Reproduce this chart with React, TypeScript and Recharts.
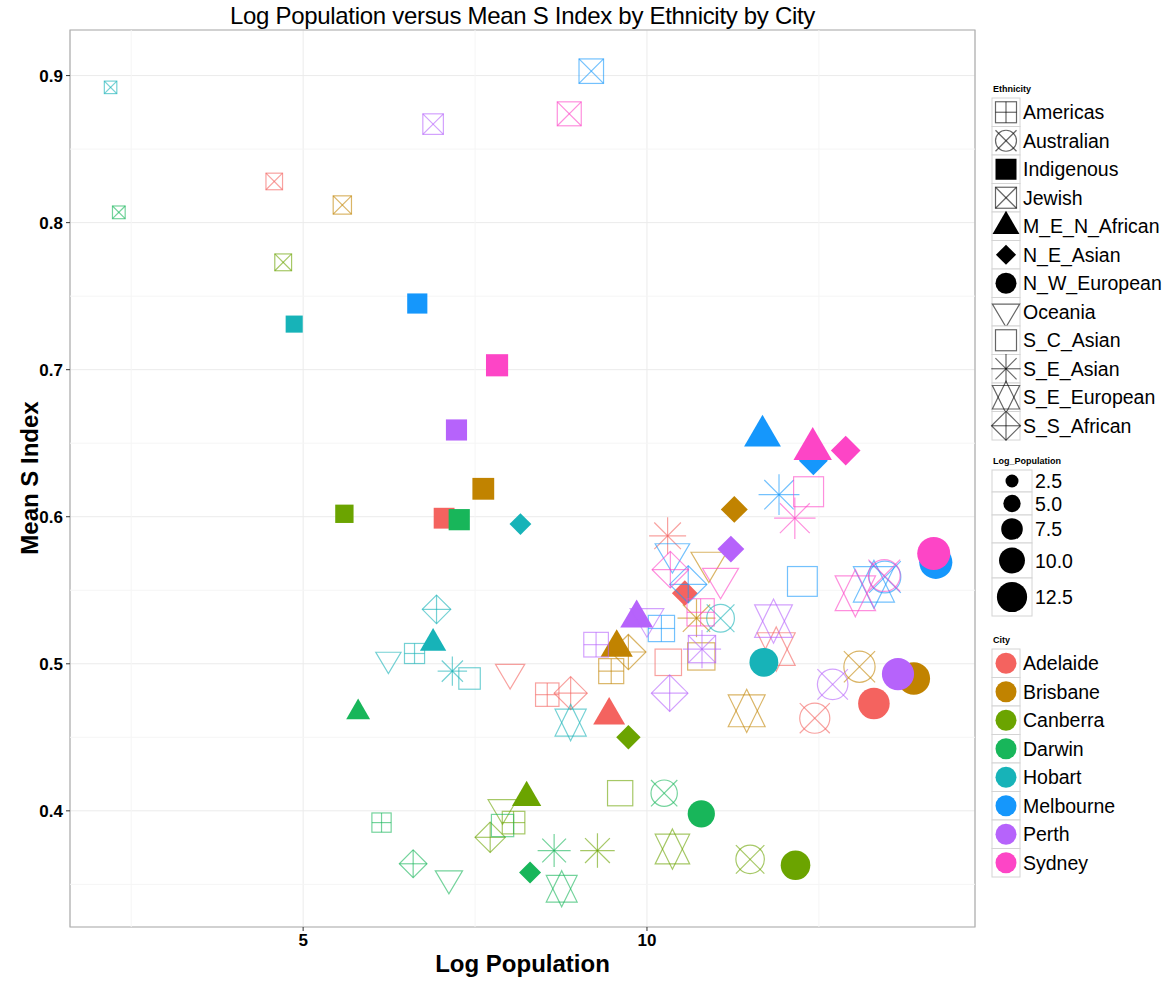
import React from 'react';
import {
  ScatterChart, Scatter, XAxis, YAxis, CartesianGrid, ReferenceLine, ReferenceArea
} from 'recharts';

type Pt = { eth: string; x: number; y: number };

const CITIES = ['Adelaide', 'Brisbane', 'Canberra', 'Darwin', 'Hobart', 'Melbourne', 'Perth', 'Sydney'];
const CITY_COLORS = ['#F4635F', '#C18300', '#6BA400', '#18B65A', '#17B3B8', '#1597FC', '#B663FB', '#FD45C6'];
const ETHNICITIES = [
  'Americas', 'Australian', 'Indigenous', 'Jewish', 'M_E_N_African', 'N_E_Asian',
  'N_W_European', 'Oceania', 'S_C_Asian', 'S_E_Asian', 'S_E_European', 'S_S_African'
];
const SIZE_BREAKS = [2.5, 5.0, 7.5, 10.0, 12.5];
const X_TICKS = [5, 10];
const X_MINOR = [2.5, 7.5, 12.5];
const Y_TICKS = [0.4, 0.5, 0.6, 0.7, 0.8, 0.9];
const Y_MINOR = [0.35, 0.45, 0.55, 0.65, 0.75, 0.85];

const adelaide: Pt[] = [
  { eth: 'Americas', x: 8.55, y: 0.479 },
  { eth: 'Australian', x: 12.44, y: 0.463 },
  { eth: 'Indigenous', x: 7.05, y: 0.599 },
  { eth: 'Jewish', x: 4.58, y: 0.828 },
  { eth: 'M_E_N_African', x: 9.45, y: 0.465 },
  { eth: 'N_E_Asian', x: 10.55, y: 0.548 },
  { eth: 'N_W_European', x: 13.3, y: 0.473 },
  { eth: 'Oceania', x: 8.01, y: 0.494 },
  { eth: 'S_C_Asian', x: 10.31, y: 0.501 },
  { eth: 'S_E_Asian', x: 10.3, y: 0.587 },
  { eth: 'S_E_European', x: 11.88, y: 0.51 },
  { eth: 'S_S_African', x: 8.89, y: 0.48 },
];
const brisbane: Pt[] = [
  { eth: 'Americas', x: 9.48, y: 0.495 },
  { eth: 'Australian', x: 13.09, y: 0.498 },
  { eth: 'Indigenous', x: 7.62, y: 0.619 },
  { eth: 'Jewish', x: 5.57, y: 0.812 },
  { eth: 'M_E_N_African', x: 9.56, y: 0.511 },
  { eth: 'N_E_Asian', x: 11.27, y: 0.605 },
  { eth: 'N_W_European', x: 13.88, y: 0.49 },
  { eth: 'Oceania', x: 10.9, y: 0.569 },
  { eth: 'S_C_Asian', x: 10.79, y: 0.505 },
  { eth: 'S_E_Asian', x: 10.72, y: 0.531 },
  { eth: 'S_E_European', x: 11.45, y: 0.468 },
  { eth: 'S_S_African', x: 9.73, y: 0.508 },
];
const canberra: Pt[] = [
  { eth: 'Americas', x: 8.06, y: 0.392 },
  { eth: 'Australian', x: 11.5, y: 0.367 },
  { eth: 'Indigenous', x: 5.6, y: 0.602 },
  { eth: 'Jewish', x: 4.71, y: 0.773 },
  { eth: 'M_E_N_African', x: 8.25, y: 0.409 },
  { eth: 'N_E_Asian', x: 9.73, y: 0.45 },
  { eth: 'N_W_European', x: 12.16, y: 0.363 },
  { eth: 'Oceania', x: 7.9, y: 0.402 },
  { eth: 'S_C_Asian', x: 9.61, y: 0.412 },
  { eth: 'S_E_Asian', x: 9.28, y: 0.373 },
  { eth: 'S_E_European', x: 10.37, y: 0.374 },
  { eth: 'S_S_African', x: 7.72, y: 0.382 },
];
const darwin: Pt[] = [
  { eth: 'Americas', x: 6.14, y: 0.392 },
  { eth: 'Australian', x: 10.25, y: 0.412 },
  { eth: 'Indigenous', x: 7.27, y: 0.598 },
  { eth: 'Jewish', x: 2.32, y: 0.807 },
  { eth: 'M_E_N_African', x: 5.8, y: 0.467 },
  { eth: 'N_E_Asian', x: 8.3, y: 0.358 },
  { eth: 'N_W_European', x: 10.79, y: 0.398 },
  { eth: 'Oceania', x: 7.12, y: 0.354 },
  { eth: 'S_C_Asian', x: 7.9, y: 0.39 },
  { eth: 'S_E_Asian', x: 8.65, y: 0.373 },
  { eth: 'S_E_European', x: 8.76, y: 0.347 },
  { eth: 'S_S_African', x: 6.6, y: 0.364 },
];
const hobart: Pt[] = [
  { eth: 'Americas', x: 6.62, y: 0.507 },
  { eth: 'Australian', x: 11.07, y: 0.531 },
  { eth: 'Indigenous', x: 4.87, y: 0.731 },
  { eth: 'Jewish', x: 2.2, y: 0.892 },
  { eth: 'M_E_N_African', x: 6.89, y: 0.514 },
  { eth: 'N_E_Asian', x: 8.16, y: 0.595 },
  { eth: 'N_W_European', x: 11.7, y: 0.501 },
  { eth: 'Oceania', x: 6.24, y: 0.503 },
  { eth: 'S_C_Asian', x: 7.42, y: 0.49 },
  { eth: 'S_E_Asian', x: 7.17, y: 0.495 },
  { eth: 'S_E_European', x: 8.89, y: 0.46 },
  { eth: 'S_S_African', x: 6.94, y: 0.537 },
];
const melbourne: Pt[] = [
  { eth: 'Americas', x: 10.21, y: 0.524 },
  { eth: 'Australian', x: 13.46, y: 0.559 },
  { eth: 'Indigenous', x: 6.66, y: 0.745 },
  { eth: 'Jewish', x: 9.19, y: 0.903 },
  { eth: 'M_E_N_African', x: 11.68, y: 0.655 },
  { eth: 'N_E_Asian', x: 12.42, y: 0.638 },
  { eth: 'N_W_European', x: 14.2, y: 0.569 },
  { eth: 'Oceania', x: 10.37, y: 0.575 },
  { eth: 'S_C_Asian', x: 12.26, y: 0.556 },
  { eth: 'S_E_Asian', x: 11.92, y: 0.615 },
  { eth: 'S_E_European', x: 13.3, y: 0.554 },
  { eth: 'S_S_African', x: 10.6, y: 0.554 },
];
const perth: Pt[] = [
  { eth: 'Americas', x: 9.26, y: 0.513 },
  { eth: 'Australian', x: 12.7, y: 0.486 },
  { eth: 'Indigenous', x: 7.23, y: 0.659 },
  { eth: 'Jewish', x: 6.89, y: 0.867 },
  { eth: 'M_E_N_African', x: 9.85, y: 0.531 },
  { eth: 'N_E_Asian', x: 11.22, y: 0.578 },
  { eth: 'N_W_European', x: 13.65, y: 0.493 },
  { eth: 'Oceania', x: 10.0, y: 0.531 },
  { eth: 'S_C_Asian', x: 10.8, y: 0.51 },
  { eth: 'S_E_Asian', x: 10.8, y: 0.51 },
  { eth: 'S_E_European', x: 11.84, y: 0.529 },
  { eth: 'S_S_African', x: 10.33, y: 0.48 },
];
const sydney: Pt[] = [
  { eth: 'Americas', x: 10.78, y: 0.535 },
  { eth: 'Australian', x: 13.45, y: 0.56 },
  { eth: 'Indigenous', x: 7.82, y: 0.703 },
  { eth: 'Jewish', x: 8.87, y: 0.874 },
  { eth: 'M_E_N_African', x: 12.41, y: 0.646 },
  { eth: 'N_E_Asian', x: 12.89, y: 0.645 },
  { eth: 'N_W_European', x: 14.17, y: 0.575 },
  { eth: 'Oceania', x: 11.07, y: 0.558 },
  { eth: 'S_C_Asian', x: 12.35, y: 0.617 },
  { eth: 'S_E_Asian', x: 12.15, y: 0.599 },
  { eth: 'S_E_European', x: 13.03, y: 0.548 },
  { eth: 'S_S_African', x: 10.34, y: 0.564 },
];

const CITY_DATA = [adelaide, brisbane, canberra, darwin, hobart, melbourne, perth, sydney];

// marker diameter grows with Log_Population
const diam = (v: number) => 8.7 + 1.72 * v;

function drawShape(eth: string, cx: number, cy: number, d: number, color: string, key?: string) {
  const sw = 1.2;
  const open = { fill: 'none', stroke: color, strokeWidth: sw, strokeOpacity: 0.6 };
  const h = d / 2;
  switch (eth) {
    case 'Americas':
      return (
        <g key={key} {...open}>
          <rect x={cx - h} y={cy - h} width={d} height={d} />
          <line x1={cx - h} y1={cy} x2={cx + h} y2={cy} />
          <line x1={cx} y1={cy - h} x2={cx} y2={cy + h} />
        </g>
      );
    case 'Australian':
      return (
        <g key={key} {...open}>
          <circle cx={cx} cy={cy} r={h} />
          <line x1={cx - h} y1={cy - h} x2={cx + h} y2={cy + h} />
          <line x1={cx - h} y1={cy + h} x2={cx + h} y2={cy - h} />
        </g>
      );
    case 'Indigenous':
      return <rect key={key} x={cx - h} y={cy - h} width={d} height={d} fill={color} />;
    case 'Jewish':
      return (
        <g key={key} {...open}>
          <rect x={cx - h} y={cy - h} width={d} height={d} />
          <line x1={cx - h} y1={cy - h} x2={cx + h} y2={cy + h} />
          <line x1={cx - h} y1={cy + h} x2={cx + h} y2={cy - h} />
        </g>
      );
    case 'M_E_N_African': {
      const w = 0.64 * d;
      const t = 1.1 * d;
      return (
        <polygon key={key} fill={color}
          points={`${cx},${cy - (2 * t) / 3} ${cx + w},${cy + t / 3} ${cx - w},${cy + t / 3}`} />
      );
    }
    case 'N_E_Asian': {
      const r = 0.48 * d;
      return (
        <polygon key={key} fill={color}
          points={`${cx},${cy - r} ${cx + r},${cy} ${cx},${cy + r} ${cx - r},${cy}`} />
      );
    }
    case 'N_W_European':
      return <circle key={key} cx={cx} cy={cy} r={h} fill={color} />;
    case 'Oceania': {
      const w = 0.65 * d;
      const t = 1.1 * d;
      return (
        <polygon key={key} {...open}
          points={`${cx - w},${cy - t / 3} ${cx + w},${cy - t / 3} ${cx},${cy + (2 * t) / 3}`} />
      );
    }
    case 'S_C_Asian':
      return <rect key={key} {...open} x={cx - h} y={cy - h} width={d} height={d} />;
    case 'S_E_Asian': {
      const r = 0.7 * d;
      const q = r * 0.72;
      return (
        <g key={key} {...open}>
          <line x1={cx - r} y1={cy} x2={cx + r} y2={cy} />
          <line x1={cx} y1={cy - r} x2={cx} y2={cy + r} />
          <line x1={cx - q} y1={cy - q} x2={cx + q} y2={cy + q} />
          <line x1={cx - q} y1={cy + q} x2={cx + q} y2={cy - q} />
        </g>
      );
    }
    case 'S_E_European': {
      const w = 0.65 * d;
      const a = 0.76 * d;
      const b = 0.56 * d;
      return (
        <g key={key} {...open}>
          <polygon points={`${cx},${cy - a} ${cx + w},${cy + b} ${cx - w},${cy + b}`} />
          <polygon points={`${cx},${cy + a} ${cx + w},${cy - b} ${cx - w},${cy - b}`} />
        </g>
      );
    }
    case 'S_S_African': {
      const r = 0.69 * d;
      return (
        <g key={key} {...open}>
          <polygon points={`${cx},${cy - r} ${cx + r},${cy} ${cx},${cy + r} ${cx - r},${cy}`} />
          <line x1={cx - r} y1={cy} x2={cx + r} y2={cy} />
          <line x1={cx} y1={cy - r} x2={cx} y2={cy + r} />
        </g>
      );
    }
    default:
      return <g key={key} />;
  }
}

const makeShape = (color: string) => (props: any) => {
  const { cx, cy, payload } = props;
  if (cx == null || cy == null || !payload) return <g />;
  return drawShape(payload.eth, cx, cy, diam(payload.x), color);
};

const FONT = '"Liberation Sans", Arial, Helvetica, sans-serif';

const Legend: React.FC = () => {
  const rowH = 28.5;
  const ethY0 = 98;
  const cityY0 = 649;
  const sizeRows = [
    { y0: 470, h: 22 },
    { y0: 492, h: 23 },
    { y0: 515, h: 28 },
    { y0: 543, h: 35 },
    { y0: 578, h: 38 },
  ];
  return (
    <svg width={200} height={983} style={{ position: 'absolute', left: 975, top: 0 }}
      fontFamily={FONT}>
      <text x={18} y={92} fontSize={9} fontWeight="bold">Ethnicity</text>
      {ETHNICITIES.map((e, i) => {
        const y = ethY0 + i * rowH;
        const cy = y + rowH / 2;
        return (
          <g key={e}>
            <rect x={17} y={y} width={28} height={rowH} fill="#fff" stroke="#d4d4d4" />
            {drawShape(e, 31, cy, 21, '#000')}
            <text x={48} y={cy + 7} fontSize={19.5}>{e}</text>
          </g>
        );
      })}
      <text x={18} y={464} fontSize={9} fontWeight="bold">Log_Population</text>
      {sizeRows.map((r, i) => (
        <g key={i}>
          <rect x={17} y={r.y0} width={40} height={r.h} fill="#fff" stroke="#d4d4d4" />
          <circle cx={37} cy={r.y0 + r.h / 2} r={diam(SIZE_BREAKS[i]) / 2} fill="#000" />
          <text x={60} y={r.y0 + r.h / 2 + 7} fontSize={19.5}>{SIZE_BREAKS[i].toFixed(1)}</text>
        </g>
      ))}
      <text x={18} y={643} fontSize={9} fontWeight="bold">City</text>
      {CITIES.map((c, i) => {
        const y = cityY0 + i * rowH;
        const cy = y + rowH / 2;
        return (
          <g key={c}>
            <rect x={17} y={y} width={28} height={rowH} fill="#fff" stroke="#d4d4d4" />
            <circle cx={31} cy={cy} r={10.5} fill={CITY_COLORS[i]} />
            <text x={48} y={cy + 7} fontSize={19.5}>{c}</text>
          </g>
        );
      })}
    </svg>
  );
};

const X_MIN = 1.61;
const X_MAX = 14.77;
const Y_MIN = 0.321;
const Y_MAX = 0.931;

export default function App() {
  const tickStyle = { fontSize: 17, fontWeight: 'bold' as const, fill: '#000', fontFamily: FONT };
  return (
    <div style={{ position: 'absolute', left: 0, top: 0, width: 1175, height: 983, background: '#fff', fontFamily: FONT }}>
      <div style={{ position: 'absolute', left: 70, width: 905, top: 2, textAlign: 'center', fontSize: 24, color: '#000', letterSpacing: -0.3 }}>
        Log Population versus Mean S Index by Ethnicity by City
      </div>
      <ScatterChart width={1175} height={983} margin={{ top: 30, right: 200, bottom: 0, left: 10 }}>
        <CartesianGrid stroke="#EBEBEB" strokeWidth={1} />
        {X_MINOR.map(v => <ReferenceLine key={'xm' + v} x={v} stroke="#F5F5F5" strokeWidth={1} />)}
        {Y_MINOR.map(v => <ReferenceLine key={'ym' + v} y={v} stroke="#F5F5F5" strokeWidth={1} />)}
        <XAxis type="number" dataKey="x" domain={[X_MIN, X_MAX]} ticks={X_TICKS} allowDataOverflow
          height={56} axisLine={false} tickLine={{ stroke: '#333' }} tickSize={4} tick={tickStyle} tickMargin={3} />
        <YAxis type="number" dataKey="y" domain={[Y_MIN, Y_MAX]} ticks={Y_TICKS} allowDataOverflow
          width={60} axisLine={false} tickLine={{ stroke: '#333' }} tickSize={4} tick={tickStyle}
          tickFormatter={(v: number) => v.toFixed(1)} tickMargin={3} />
        <ReferenceArea x1={X_MIN} x2={X_MAX} y1={Y_MIN} y2={Y_MAX} fill="none" fillOpacity={0}
          stroke="#AEAEAE" strokeWidth={1.2} />
        {CITY_DATA.map((data, i) => (
          <Scatter key={CITIES[i]} name={CITIES[i]} data={data} isAnimationActive={false}
            shape={makeShape(CITY_COLORS[i])} />
        ))}
      </ScatterChart>
      <div style={{ position: 'absolute', left: 70, width: 905, top: 950, textAlign: 'center', fontSize: 24, fontWeight: 'bold', color: '#000' }}>
        Log Population
      </div>
      <div style={{
        position: 'absolute', left: 30, top: 478, transform: 'translate(-50%, -50%) rotate(-90deg)',
        fontSize: 24, fontWeight: 'bold', whiteSpace: 'nowrap', color: '#000'
      }}>
        Mean S Index
      </div>
      <Legend />
    </div>
  );
}
